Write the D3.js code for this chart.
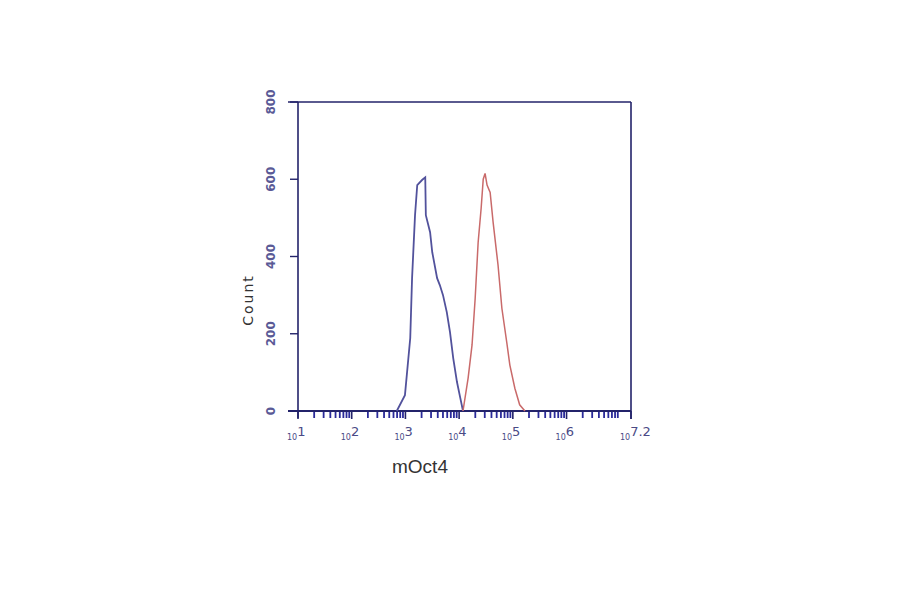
<!DOCTYPE html>
<html><head><meta charset="utf-8">
<script src="https://cdn.jsdelivr.net/npm/d3@7"></script>
<style>body{margin:0;background:#fff}svg{display:block}</style>
</head><body><svg id="c" width="900" height="594"></svg>
<script>
// Fluorescence intensity (mOct4 channel) and event counts
const blueX = [690, 980, 1230, 1330, 1510, 1660, 2040, 2340, 2400, 2880, 3160, 3890, 4370, 5010, 5890, 6760, 7760, 9120, 10500, 11800];
const blueY = [0, 41, 189, 344, 507, 585, 598, 605, 507, 463, 411, 344, 326, 300, 256, 204, 137, 75, 34, 0];
const redX = [11800, 14700, 17400, 19900, 22600, 25700, 28100, 30400, 33100, 37800, 42900, 53000, 62500, 77000, 88000, 109000, 134000, 168000];
const redY = [0, 85, 171, 292, 437, 525, 600, 615, 585, 566, 489, 378, 266, 178, 119, 59, 16, 0];
const yTicks = [0, 200, 400, 600, 800];
const xDecades = [1, 2, 3, 4, 5, 6, 7.2];
const xLabel = "mOct4", yLabel = "Count";

const svg = d3.select("#c");
const L = 298, R = 631, T = 102, B = 411;
const x = d3.scaleLog().domain([10, Math.pow(10, 7.2)]).range([L, R]);
const y = d3.scaleLinear().domain([0, 800]).range([B, T]);
const navy = "#23236a";

// minor ticks along x axis
const minor = [];
for (let e = 1; e < 8; e++) for (let m = 2; m <= 9; m++) { const v = m * Math.pow(10, e); if (v < Math.pow(10, 7.2)) minor.push(v); }
svg.append("g").selectAll("line").data(minor).join("line")
  .attr("x1", d => x(d)).attr("x2", d => x(d)).attr("y1", B).attr("y2", B + 7)
  .attr("stroke", "#2a2a9a").attr("stroke-width", 1.8);
svg.append("g").selectAll("line").data(xDecades).join("line")
  .attr("x1", d => x(Math.pow(10, d))).attr("x2", d => x(Math.pow(10, d))).attr("y1", B).attr("y2", B + 8)
  .attr("stroke", navy).attr("stroke-width", 1.6);

// frame
svg.append("line").attr("x1", L - 10).attr("x2", R).attr("y1", T).attr("y2", T).attr("stroke", navy).attr("stroke-width", 1.6);
svg.append("line").attr("x1", L - 10).attr("x2", R).attr("y1", B).attr("y2", B).attr("stroke", navy).attr("stroke-width", 2.2);
svg.append("line").attr("x1", L).attr("x2", L).attr("y1", T).attr("y2", B + 7).attr("stroke", navy).attr("stroke-width", 1.6);
svg.append("line").attr("x1", R).attr("x2", R).attr("y1", T).attr("y2", B + 8).attr("stroke", navy).attr("stroke-width", 1.6);

// y ticks & labels
svg.append("g").selectAll("line").data(yTicks).join("line")
  .attr("x1", L - 8).attr("x2", L).attr("y1", d => y(d)).attr("y2", d => y(d))
  .attr("stroke", navy).attr("stroke-width", 1.4);
svg.append("g").selectAll("text").data(yTicks).join("text")
  .attr("transform", d => `translate(275,${y(d)}) rotate(-90)`)
  .attr("text-anchor", "middle").attr("font-family", "DejaVu Sans, sans-serif")
  .attr("font-size", 12).attr("font-weight", "bold").attr("fill", "#5a5a96")
  .text(d => d);

// x labels 10^n
const xl = svg.append("g").selectAll("text").data(xDecades).join("text")
  .attr("x", d => x(Math.pow(10, d)) - 11).attr("y", 440)
  .attr("font-family", "DejaVu Sans, sans-serif").attr("fill", "#4a4a86");
xl.append("tspan").attr("font-size", 8).text("10");
xl.append("tspan").attr("font-size", 13).attr("dy", -4).text(d => d);

// curves
const line = d3.line().x(d => x(d[0])).y(d => y(d[1])).curve(d3.curveLinear);
svg.append("path").datum(blueX.map((v, i) => [v, blueY[i]]))
  .attr("d", line).attr("fill", "none").attr("stroke", "#52529c").attr("stroke-width", 1.8);
svg.append("path").datum(redX.map((v, i) => [v, redY[i]]))
  .attr("d", line).attr("fill", "none").attr("stroke", "#c96a6a").attr("stroke-width", 1.5);

// axis titles
svg.append("text").attr("x", 392).attr("y", 473).attr("font-family", "Liberation Sans, Arial, sans-serif")
  .attr("font-size", 19).attr("fill", "#333").text(xLabel);
svg.append("text").attr("transform", "translate(253,300) rotate(-90)").attr("text-anchor", "middle")
  .attr("font-family", "DejaVu Sans, sans-serif").attr("font-size", 14).attr("letter-spacing", 2)
  .attr("fill", "#333").text(yLabel);
</script></body></html>
